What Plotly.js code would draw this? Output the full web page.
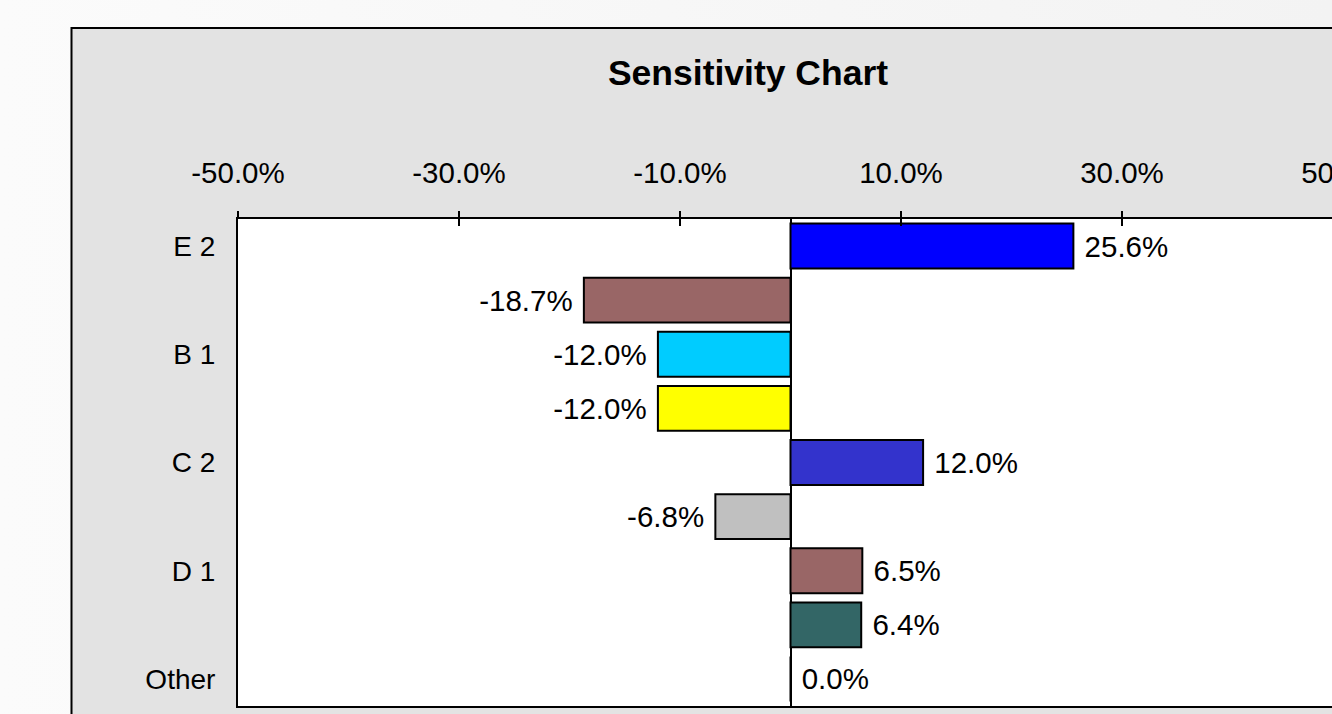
<!DOCTYPE html>
<html>
<head>
<meta charset="utf-8">
<script src="https://cdn.plot.ly/plotly-3.0.1.min.js"></script>
<style>
  html, body { margin: 0; padding: 0; overflow: hidden; width: 1332px; height: 714px;
    background: linear-gradient(to right, #fbfbfb, #f3f3f3); }
  #chart { width: 1400px; height: 750px; }
</style>
</head>
<body>
<div id="chart"></div>
<script>
// ---- data ----
const rowLabels = ["E 2", "", "B 1", "", "C 2", "", "D 1", "", "Other"];
const sensitivity = [25.6, -18.7, -12.0, -12.0, 12.0, -6.8, 6.5, 6.4, 0.0];
const barColors = ["#0000ff", "#996666", "#00ccff", "#ffff00", "#3333cc", "#c0c0c0", "#996666", "#336666", "#ffffff"];
const xTickVals = [-50, -30, -10, 10, 30, 50];
const xTickText = xTickVals.map(v => v.toFixed(1) + "%");

const rowIdx = rowLabels.map((_, i) => i);
const NB = "\u00a0";
const barText = sensitivity.map(v => v < 0 ? v.toFixed(1) + "%" + NB : NB + v.toFixed(1) + "%");

const FONT = "Liberation Sans, Arial, sans-serif";

const trace = {
  type: "bar",
  orientation: "h",
  x: sensitivity,
  y: rowIdx,
  text: barText,
  textposition: "outside",
  constraintext: "none",
  cliponaxis: false,
  textfont: { family: FONT, size: 29.5, color: "#000" },
  marker: { color: barColors, line: { color: "#000", width: 2 } },
  hoverinfo: "skip"
};
const ghost = { type: "scatter", x: [0], y: [0], xaxis: "x2", yaxis: "y", mode: "none", showlegend: false, hoverinfo: "skip" };

const W = 1400, H = 750;
const L = 238, T = 219, PW = 1105, PH = 487;

const layout = {
  width: W, height: H,
  margin: { l: L, r: W - L - PW, t: T, b: H - T - PH, pad: 0 },
  paper_bgcolor: "rgba(0,0,0,0)",
  plot_bgcolor: "#ffffff",
  showlegend: false,
  bargap: 0.17,
  font: { family: FONT, color: "#000" },
  title: {
    text: "<b>Sensitivity Chart</b>",
    font: { family: FONT, size: 35.5, color: "#000" },
    xref: "paper", x: (748 - L) / PW, xanchor: "center",
    yref: "container", y: 1 - 73 / H, yanchor: "middle"
  },
  xaxis: {
    side: "top", range: [-50, 50],
    tickmode: "array", tickvals: xTickVals, ticktext: xTickText,
    ticks: "outside", ticklen: 6, tickwidth: 2, tickcolor: "#000",
    ticklabelstandoff: 16,
    tickfont: { family: FONT, size: 29.5, color: "#000" },
    showgrid: false,
    zeroline: true, zerolinecolor: "#000", zerolinewidth: 2,
    showline: true, linecolor: "#000", linewidth: 2, mirror: true,
    fixedrange: true
  },
  xaxis2: {
    overlaying: "x", matches: "x", side: "top", range: [-50, 50],
    tickmode: "array", tickvals: xTickVals, ticktext: xTickText,
    ticks: "inside", ticklen: 7, tickwidth: 2, tickcolor: "#000",
    showticklabels: false, showgrid: false, zeroline: false, showline: false
  },
  yaxis: {
    range: [8.5, -0.5],
    tickmode: "array", tickvals: rowIdx, ticktext: rowLabels,
    ticks: "", ticklabelstandoff: 15,
    tickfont: { family: FONT, size: 28, color: "#000" },
    showgrid: false, zeroline: false,
    showline: true, linecolor: "#000", linewidth: 2, mirror: true,
    fixedrange: true
  },
  shapes: [{
    type: "rect", layer: "below", xref: "paper", yref: "paper",
    x0: (71.5 - L) / PW, x1: (1390 - L) / PW,
    y0: (T + PH - 745) / PH, y1: (T + PH - 28) / PH,
    fillcolor: "#e3e3e3", line: { color: "#000", width: 2 }
  }, {
    type: "rect", layer: "below", xref: "paper", yref: "paper",
    x0: 0, x1: 1, y0: 0, y1: 1,
    fillcolor: "#ffffff", line: { width: 0 }
  }]
};

Plotly.newPlot("chart", [trace, ghost], layout, { staticPlot: true, displayModeBar: false });
</script>
</body>
</html>
